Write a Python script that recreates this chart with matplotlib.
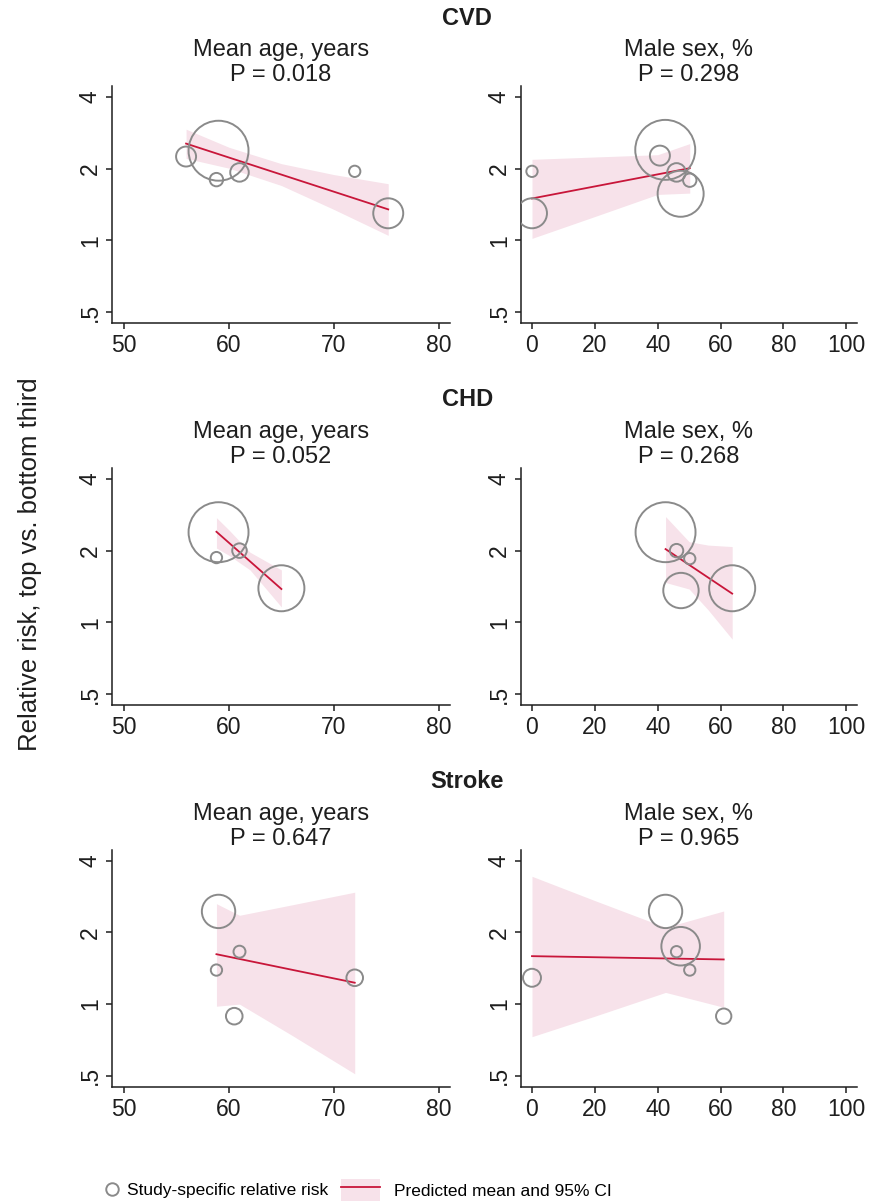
import numpy as np
import matplotlib.pyplot as plt
from matplotlib.lines import Line2D
from matplotlib.patches import Patch
from matplotlib.ticker import NullLocator

plt.rcParams['font.family'] = ['Liberation Sans', 'DejaVu Sans']

outcomes = ['CVD', 'CHD', 'Stroke']
p_age = ['0.018', '0.052', '0.647']
p_male = ['0.298', '0.268', '0.965']

age_ticks = [50, 60, 70, 80]
male_ticks = [0, 20, 40, 60, 80, 100]
rr_ticks = [0.5, 1, 2, 4]
rr_labels = ['.5', '1', '2', '4']

# CVD - mean age
cvd_age_x = [55.9, 59.0, 58.8, 61.0, 72.0, 75.2]
cvd_age_rr = [2.25, 2.38, 1.80, 1.93, 1.95, 1.30]
cvd_age_w = [100, 900, 45, 86, 32, 225]
cvd_age_ci_x = [55.9, 60, 65, 70, 75.2]
cvd_age_ci_hi = [2.93, 2.46, 2.10, 1.89, 1.73]
cvd_age_ci_lo = [2.21, 2.01, 1.70, 1.35, 1.05]
cvd_age_fit = [2.55, 1.35]

# CVD - male sex
cvd_male_x = [0, 0, 42.4, 40.7, 46.0, 50.2, 47.3]
cvd_male_rr = [1.95, 1.30, 2.40, 2.27, 1.93, 1.79, 1.57]
cvd_male_w = [32, 225, 900, 100, 86, 45, 530]
cvd_male_ci_x = [0, 20, 40, 50.2]
cvd_male_ci_hi = [2.19, 2.24, 2.29, 2.55]
cvd_male_ci_lo = [1.02, 1.26, 1.56, 1.58]
cvd_male_fit = [1.50, 2.01]

# CHD - mean age
chd_age_x = [59.0, 58.8, 61.0, 65.0]
chd_age_rr = [2.39, 1.87, 2.00, 1.39]
chd_age_w = [900, 32, 53, 530]
chd_age_ci_x = [58.8, 60, 62, 65.0]
chd_age_ci_hi = [2.75, 2.44, 1.97, 1.66]
chd_age_ci_lo = [2.05, 1.91, 1.66, 1.16]
chd_age_fit = [2.40, 1.38]

# CHD - male sex
chd_male_x = [42.5, 46.0, 50.2, 47.4, 63.7]
chd_male_rr = [2.39, 2.00, 1.85, 1.36, 1.39]
chd_male_w = [900, 45, 32, 313, 530]
chd_male_ci_x = [42.5, 50, 56, 63.7]
chd_male_ci_hi = [2.78, 2.18, 2.11, 2.08]
chd_male_ci_lo = [1.47, 1.38, 1.13, 0.85]
chd_male_fit = [2.03, 1.32]

# Stroke - mean age
str_age_x = [59.0, 61.0, 58.8, 60.5, 72.0]
str_age_rr = [2.45, 1.66, 1.39, 0.89, 1.29]
str_age_w = [279, 36, 32, 69, 69]
str_age_ci_x = [58.8, 61, 66, 72]
str_age_ci_hi = [2.64, 2.36, 2.61, 2.95]
str_age_ci_lo = [0.98, 1.00, 0.74, 0.51]
str_age_fit = [1.62, 1.23]

# Stroke - male sex
str_male_x = [0, 42.5, 47.3, 46.0, 50.2, 61.0]
str_male_rr = [1.29, 2.45, 1.75, 1.66, 1.39, 0.89]
str_male_w = [81, 279, 372, 32, 32, 59]
str_male_ci_x = [0, 20, 42.5, 61]
str_male_ci_hi = [3.44, 2.72, 2.10, 2.46]
str_male_ci_lo = [0.73, 0.89, 1.12, 0.97]
str_male_fit = [1.59, 1.54]

panels = [
    [(cvd_age_x, cvd_age_rr, cvd_age_w, cvd_age_ci_x, cvd_age_ci_lo, cvd_age_ci_hi, cvd_age_fit),
     (cvd_male_x, cvd_male_rr, cvd_male_w, cvd_male_ci_x, cvd_male_ci_lo, cvd_male_ci_hi, cvd_male_fit)],
    [(chd_age_x, chd_age_rr, chd_age_w, chd_age_ci_x, chd_age_ci_lo, chd_age_ci_hi, chd_age_fit),
     (chd_male_x, chd_male_rr, chd_male_w, chd_male_ci_x, chd_male_ci_lo, chd_male_ci_hi, chd_male_fit)],
    [(str_age_x, str_age_rr, str_age_w, str_age_ci_x, str_age_ci_lo, str_age_ci_hi, str_age_fit),
     (str_male_x, str_male_rr, str_male_w, str_male_ci_x, str_male_ci_lo, str_male_ci_hi, str_male_fit)],
]

band_col = '#f7e2ea'
line_col = '#c8163a'
circ_col = '#8a8a8a'
ink = '#1e1e1e'

fig = plt.figure(figsize=(8.72, 12.04), dpi=100)

lefts = [0.1281, 0.5971]
widths = [0.388, 0.386]
bottoms = [0.7317, 0.4145, 0.0974]
height = 0.1965
title_y = [0.985, 0.668, 0.351]

for r in range(3):
    for c in range(2):
        x, rr, w, cx, lo, hi, fit = panels[r][c]
        ax = fig.add_axes([lefts[c], bottoms[r], widths[c], height])
        ax.set_yscale('log')
        ax.fill_between(cx, lo, hi, color=band_col, lw=0, zorder=1)
        ax.plot([cx[0], cx[-1]], fit, color=line_col, lw=1.3, zorder=2)
        ax.scatter(x, rr, s=np.array(w) * 2.07, facecolors='none',
                   edgecolors=circ_col, linewidths=1.4, zorder=3)

        if c == 0:
            ax.set_xlim(48.8, 81.1)
            ax.set_xticks(age_ticks)
            ttl = 'Mean age, years\nP = ' + p_age[r]
        else:
            ax.set_xlim(-3.6, 103.5)
            ax.set_xticks(male_ticks)
            ttl = 'Male sex, %\nP = ' + p_male[r]
        ax.set_ylim(0.45, 4.43)
        ax.yaxis.set_minor_locator(NullLocator())
        ax.set_yticks(rr_ticks)
        ax.set_yticklabels(rr_labels, rotation=90, va='center')
        ax.set_title(ttl, fontsize=17, color=ink, linespacing=1.2, pad=2)

        for s in ['top', 'right']:
            ax.spines[s].set_visible(False)
        for s in ['left', 'bottom']:
            ax.spines[s].set_linewidth(1.1)
            ax.spines[s].set_color(ink)
        ax.tick_params(axis='both', length=4, width=1.1, color=ink,
                       labelsize=16.5, labelcolor=ink)
        ax.tick_params(axis='x', pad=4)
        ax.tick_params(axis='y', pad=3)

    fig.text(0.536, title_y[r], outcomes[r], fontsize=17, fontweight='bold',
             color=ink, ha='center', va='center')

fig.text(0.034, 0.531, 'Relative risk, top vs. bottom third', rotation=90,
         fontsize=18.5, color=ink, ha='center', va='center')

# legend
h1 = Line2D([], [], marker='o', ls='none', markersize=9, markerfacecolor='none',
            markeredgecolor=circ_col, markeredgewidth=1.4)
fig.legend([h1], ['Study-specific relative risk'], loc='center left',
           bbox_to_anchor=(0.1173, 0.0116), frameon=False,
           handlelength=1.15, handletextpad=0.3, borderpad=0, borderaxespad=0,
           prop={'size': 12.5})
h2 = (Patch(facecolor=band_col, edgecolor='none'), Line2D([], [], color=line_col, lw=1.3))
fig.legend([h2], ['Predicted mean and 95% CI'], loc='center left',
           bbox_to_anchor=(0.3907, 0.0116), frameon=False,
           handlelength=2.25, handleheight=1.6, handletextpad=0.8,
           borderpad=0, borderaxespad=0,
           prop={'size': 12.5})

fig.savefig('out.png', dpi=100)
